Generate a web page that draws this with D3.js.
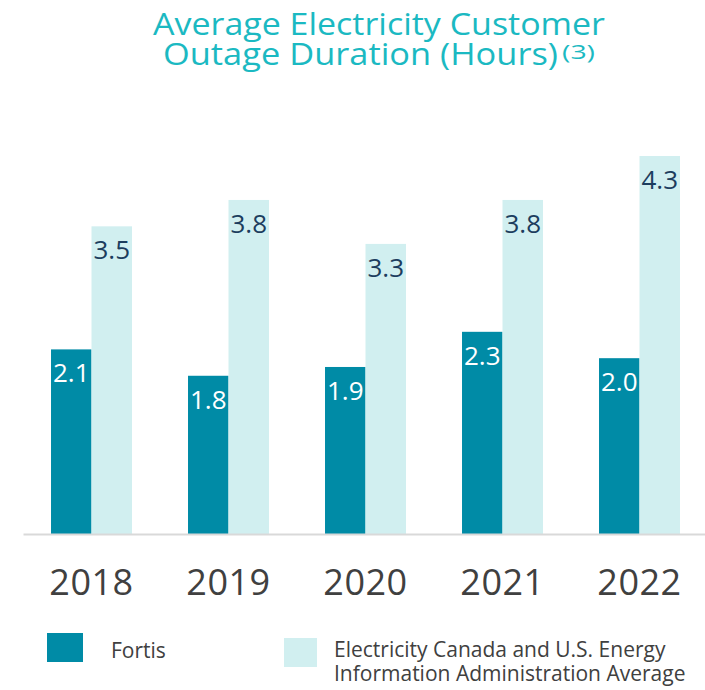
<!DOCTYPE html>
<meta charset="utf-8">
<html>
<head>
<script src="https://d3js.org/d3.v7.min.js"></script>
<style>
  body { margin: 0; background: #fff; }
  text { font-family: "Open Sans", sans-serif; }
</style>
</head>
<body>
<svg id="chart"></svg>
<script>
  // data
  var years = ["2018", "2019", "2020", "2021", "2022"];
  var series = ["Fortis", "Electricity Canada and U.S. Energy Information Administration Average"];
  var fortis = [2.1, 1.8, 1.9, 2.3, 2.0];
  var industry = [3.5, 3.8, 3.3, 3.8, 4.3];

  var width = 705, height = 690;
  var darkTeal = "#008ba6", lightTeal = "#d1eff0";

  var svg = d3.select("#chart")
      .attr("width", width)
      .attr("height", height);

  // title
  var title = svg.append("g").attr("fill", "#1bb9c2")
      .style("font-family", "Poppins, Inter, sans-serif");
  title.append("text")
      .attr("x", 153).attr("y", 35)
      .attr("font-size", 31)
      .attr("textLength", 452).attr("lengthAdjust", "spacingAndGlyphs")
      .text("Average Electricity Customer");
  title.append("text")
      .attr("x", 163).attr("y", 65)
      .attr("font-size", 31)
      .attr("textLength", 395).attr("lengthAdjust", "spacingAndGlyphs")
      .text("Outage Duration (Hours)");
  title.append("text")
      .attr("x", 562).attr("y", 59)
      .attr("font-size", 20)
      .attr("textLength", 33).attr("lengthAdjust", "spacingAndGlyphs")
      .text("(3)");

  // scales
  var x = d3.scaleBand()
      .domain(years)
      .range([23, 708])
      .paddingInner(0.409)
      .paddingOuter(0.2045);

  var x1 = d3.scaleBand()
      .domain(series)
      .range([0, x.bandwidth()]);

  var y = d3.scaleLinear()
      .domain([0, 4.3])
      .range([534, 156]);

  var color = d3.scaleOrdinal()
      .domain(series)
      .range([darkTeal, lightTeal]);

  var rows = years.map(function(yr, i) {
    return {year: yr, values: [
      {key: series[0], value: fortis[i]},
      {key: series[1], value: industry[i]}
    ]};
  });

  var groups = svg.append("g").selectAll("g")
      .data(rows)
      .join("g")
      .attr("transform", function(d) { return "translate(" + x(d.year) + ",0)"; });

  groups.selectAll("rect")
      .data(function(d) { return d.values; })
      .join("rect")
      .attr("x", function(d) { return x1(d.key); })
      .attr("y", function(d) { return y(d.value); })
      .attr("width", x1.bandwidth())
      .attr("height", function(d) { return y(0) - y(d.value); })
      .attr("fill", function(d) { return color(d.key); });

  groups.selectAll("text")
      .data(function(d) { return d.values; })
      .join("text")
      .attr("x", function(d) { return x1(d.key) + x1.bandwidth() / 2; })
      .attr("y", function(d) { return y(d.value) + 33; })
      .attr("text-anchor", "middle")
      .attr("font-size", 26)
      .attr("fill", function(d, i) { return i === 0 ? "#ffffff" : "#1c3d5e"; })
      .text(function(d) { return d.value.toFixed(1); });

  // x axis
  var xAxis = svg.append("g")
      .attr("transform", "translate(0," + y(0) + ")")
      .call(d3.axisBottom(x).tickSize(0).tickSizeOuter(0));
  xAxis.select(".domain")
      .attr("stroke", "#d9d9d9")
      .attr("stroke-width", 2);
  xAxis.selectAll(".tick text")
      .attr("y", 61)
      .attr("dy", 0)
      .attr("font-family", "Open Sans, sans-serif")
      .attr("font-size", 36)
      .attr("letter-spacing", 0.5)
      .attr("fill", "#404040");

  // legend
  var legend = svg.append("g").attr("fill", "#404040").attr("font-size", 21);
  legend.append("rect")
      .attr("x", 47).attr("y", 633).attr("width", 36).attr("height", 29)
      .attr("fill", color(series[0]));
  legend.append("text")
      .attr("x", 111).attr("y", 658)
      .text(series[0]);
  legend.append("rect")
      .attr("x", 284).attr("y", 638).attr("width", 33).attr("height", 29)
      .attr("fill", color(series[1]));
  legend.append("text")
      .attr("x", 334).attr("y", 657)
      .text("Electricity Canada and U.S. Energy");
  legend.append("text")
      .attr("x", 334).attr("y", 681)
      .text("Information Administration Average");
</script>
</body>
</html>
